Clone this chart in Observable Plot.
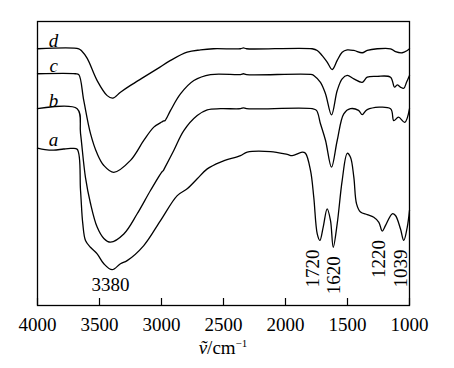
<!DOCTYPE html>
<html>
<head>
<meta charset="utf-8">
<script src="https://cdn.jsdelivr.net/npm/d3@7"></script>
<script src="https://cdn.jsdelivr.net/npm/@observablehq/plot@0.6"></script>
<style>
  html, body { margin: 0; padding: 0; background: #fff; }
  #chart { width: 454px; }
  #xlabel { width: 446px; text-align: center; font-family: "Liberation Serif", serif; font-size: 19px; line-height: 19px; height: 30px; color: #000; }
  #xlabel sup { font-size: 11px; vertical-align: 7px; line-height: 0; }
</style>
</head>
<body>
<div id="chart"></div>
<div id="xlabel"><i>ṽ</i>/cm<sup>−1</sup></div>
<script>
// Wavenumber (cm^-1) and relative transmittance for each spectrum
const waveA = [4000,3940,3870,3790,3730,3680,3653,3635,3613,3573,3519,3465,3398,3331,3277,3143,3008,2873,2793,2712,2631,2524,2363,2309,2121,1986,1946,1865,1839,1798,1772,1744,1723,1696,1664,1637,1615,1583,1543,1502,1476,1449,1427,1395,1341,1288,1247,1220,1193,1139,1113,1073,1046,1018,1000];
const transA = [55.4,54.9,54.7,55.1,55.3,55.0,40.5,28.9,22.9,20.5,18.2,14.7,12.6,14.7,15.8,21.1,29.9,38.7,41.1,44.6,48.1,50.5,52.8,54.0,54.2,53.2,52.8,54.0,53.6,47.5,38.1,25.2,22.9,27.6,34.0,29.9,20.5,28.8,44.0,53.6,52.2,45.2,35.8,32.9,32.0,31.1,29.3,26.2,28.2,32.3,31.7,27.0,22.9,27.6,33.5];

const waveB = [4000,3680,3653,3613,3573,3519,3465,3411,3304,3196,3089,2994,2985,2977,2901,2820,2712,2631,2524,2363,2339,2314,1785,1750,1718,1677,1629,1583,1530,1476,1411,1381,1341,1153,1127,1089,1038,1000];
const transB = [69.3,69.3,60.6,45.0,36.0,27.6,23.6,22.3,25.2,32.3,40.5,47.2,47.5,48.2,54.6,61.6,66.9,68.9,69.3,69.3,69.6,69.3,69.3,68.7,64.0,58.1,48.7,58.1,67.5,69.3,68.7,67.2,69.0,69.3,65.1,66.3,64.5,69.3];

const waveC = [4000,3694,3667,3627,3573,3519,3465,3385,3250,3143,3062,2998,2981,2972,2927,2847,2739,2605,2363,2339,2314,1785,1772,1718,1677,1629,1583,1543,1502,1449,1381,1341,1260,1153,1121,1099,1073,1046,1024,1000];
const transC = [81.6,81.6,81.3,72.2,60.6,53.5,49.3,46.9,51.1,58.1,62.8,64.6,65.0,65.1,68.7,74.5,79.2,81.3,81.3,81.6,81.3,81.3,81.0,78.6,74.5,67.1,75.7,79.8,81.0,79.8,78.6,80.4,80.7,80.4,76.9,77.7,76.9,76.5,78.6,81.0];

const waveD = [4000,3667,3645,3599,3519,3438,3393,3331,3250,3143,3035,2927,2793,2685,2581,2363,2339,2314,1785,1744,1704,1664,1623,1583,1543,1502,1449,1381,1341,1260,1153,1113,1059,1018,1000];
const transD = [90.4,90.4,89.7,87.0,79.2,73.9,73.0,75.1,77.5,80.4,83.3,86.3,89.2,90.0,90.4,90.4,90.7,90.4,90.4,89.8,88.0,85.7,83.1,86.3,89.2,90.0,89.8,89.0,89.8,90.4,90.4,89.4,89.0,89.8,90.4];

const seriesNames = ["a", "b", "c", "d"];
const peakLabels = [3380, 1720, 1620, 1220, 1039];
const xTicks = [4000, 3500, 3000, 2500, 2000, 1500, 1000];

const toRows = (name, w, t) => w.map((x, i) => ({name, x, y: t[i]}));
const rows = [
  ...toRows("a", waveA, transA),
  ...toRows("b", waveB, transB),
  ...toRows("c", waveC, transC),
  ...toRows("d", waveD, transD)
];
const startRows = seriesNames.map(n => ({name: n, x: 3870, y: rows.find(r => r.name === n).y}));

// value of curve a at a wavenumber (nearest sample)
const aAt = (wn) => {
  let best = 0;
  waveA.forEach((w, i) => { if (Math.abs(w - wn) < Math.abs(waveA[best] - wn)) best = i; });
  return transA[best];
};
const peakRows = peakLabels.map(p => ({p, x: p, y: aAt(p)}));
const dxs = {3380: -4, 1720: -7, 1620: 1, 1220: -3, 1039: -4};

const font = "'Liberation Serif', 'Times New Roman', serif";
const chart = Plot.plot({
  width: 454,
  height: 338,
  marginLeft: 37,
  marginRight: 45,
  marginTop: 21,
  marginBottom: 33,
  style: {fontFamily: font, fontSize: "19px", background: "#fff", color: "#000"},
  x: {domain: [4000, 1000], label: null},
  y: {domain: [0, 100], axis: null},
  marks: [
    Plot.frame({stroke: "#000", strokeWidth: 1.3}),
    Plot.axisX({ticks: xTicks, tickSize: -7, tickPadding: 19, tickFormat: d => String(d), fontSize: 19, fontFamily: font, stroke: "#000", strokeWidth: 1.2}),
    Plot.line(rows, {x: "x", y: "y", z: "name", stroke: "#000", strokeWidth: 1.3, curve: "catmull-rom"}),
    Plot.text(startRows, {x: "x", y: "y", text: "name", fontStyle: "italic", fontFamily: font, fontSize: 19, lineAnchor: "bottom", dy: -2, fill: "#000"}),
    Plot.text(peakRows.filter(d => d.p === 3380), {x: "x", y: "y", text: d => String(d.p), lineAnchor: "top", dy: 8, dx: -4, fontFamily: font, fontSize: 19, fill: "#000"}),
    ...peakRows.filter(d => d.p !== 3380).map(d =>
      Plot.text([d], {x: "x", y: "y", text: r => String(r.p), rotate: -90, textAnchor: "end", lineAnchor: "middle", dy: 9, dx: dxs[d.p], fontFamily: font, fontSize: 19, fill: "#000"})
    )
  ]
});
document.getElementById("chart").appendChild(chart);
</script>
</body>
</html>
